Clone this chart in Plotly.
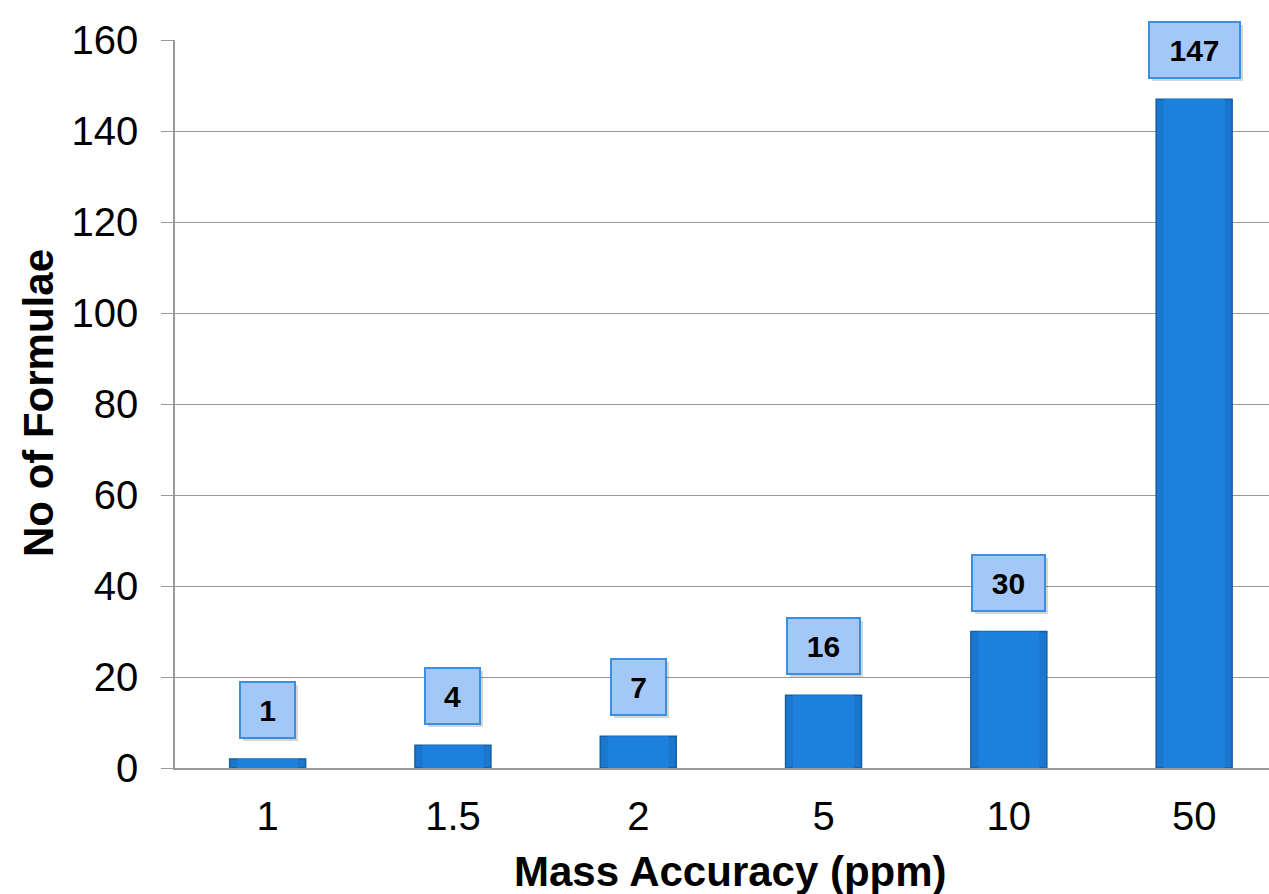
import plotly.graph_objects as go

categories = ["1", "1.5", "2", "5", "10", "50"]
bar_heights = [2, 5, 7, 16, 30, 147]
label_values = [1, 4, 7, 16, 30, 147]
y_ticks = [0, 20, 40, 60, 80, 100, 120, 140, 160]

FONT = "Liberation Sans, Arial, sans-serif"
L, R, T, B = 175, 1269, 40, 768
PW, PH = R - L, B - T

fig = go.Figure()
fig.add_trace(go.Bar(
    x=categories, y=bar_heights, width=0.41,
    marker=dict(color="#1a76cf", line=dict(color="#15609f", width=1.5)),
    hoverinfo="skip", showlegend=False,
))
# lighter centre to suggest the bevelled look
fig.add_trace(go.Bar(
    x=categories, y=bar_heights, width=0.33,
    marker=dict(color="#1d80dc", line=dict(width=0)),
    hoverinfo="skip", showlegend=False,
))

for i, (h, lab) in enumerate(zip(bar_heights, label_values)):
    txt = str(lab)
    w = 39 + 18 * len(txt)
    fig.add_annotation(x=i, y=h, xref="x", yref="y", text="", showarrow=False,
                       yshift=46, xshift=3, width=w - 4, height=54,
                       bgcolor="rgba(0,0,0,0.16)", borderwidth=2, bordercolor="rgba(0,0,0,0)",
                       borderpad=0)
    fig.add_annotation(x=i, y=h, xref="x", yref="y", text=f"<b>{txt}</b>", showarrow=False,
                       yshift=49, width=w - 4, height=54,
                       font=dict(family=FONT, size=30, color="black"),
                       bgcolor="#a3c8f8", bordercolor="#3b8fe0", borderwidth=2, borderpad=0)

fig.add_annotation(text="<b>Mass Accuracy (ppm)</b>", xref="paper", yref="paper",
                   x=(730 - L) / PW, y=-(871 - B) / PH, xanchor="center", yanchor="middle",
                   showarrow=False, font=dict(family=FONT, size=42, color="black"))
fig.add_annotation(text="<b>No of Formulae</b>", xref="paper", yref="paper",
                   x=(38 - L) / PW, y=(B - 403) / PH, xanchor="center", yanchor="middle",
                   textangle=-90, showarrow=False,
                   font=dict(family=FONT, size=42, color="black"))

fig.update_layout(
    width=1269, height=894,
    margin=dict(l=L, r=0, t=T, b=894 - B),
    paper_bgcolor="white", plot_bgcolor="white",
    font=dict(family=FONT, color="black"),
    barmode="overlay",
    xaxis=dict(
        type="category", range=[-0.5, 5.404],
        showgrid=False, showline=True, linecolor="#999999", linewidth=1.5,
        ticks="", tickfont=dict(size=40, family=FONT), ticklabelstandoff=12,
        zeroline=False,
    ),
    yaxis=dict(
        range=[0, 160], tickvals=y_ticks,
        showgrid=True, gridcolor="#999999", gridwidth=1.3,
        showline=True, linecolor="#999999", linewidth=1.5,
        ticks="outside", ticklen=12, tickcolor="#999999", tickwidth=1.3,
        tickfont=dict(size=40, family=FONT), ticklabelstandoff=15,
        zeroline=False,
    ),
)

fig.write_html("out.html")
